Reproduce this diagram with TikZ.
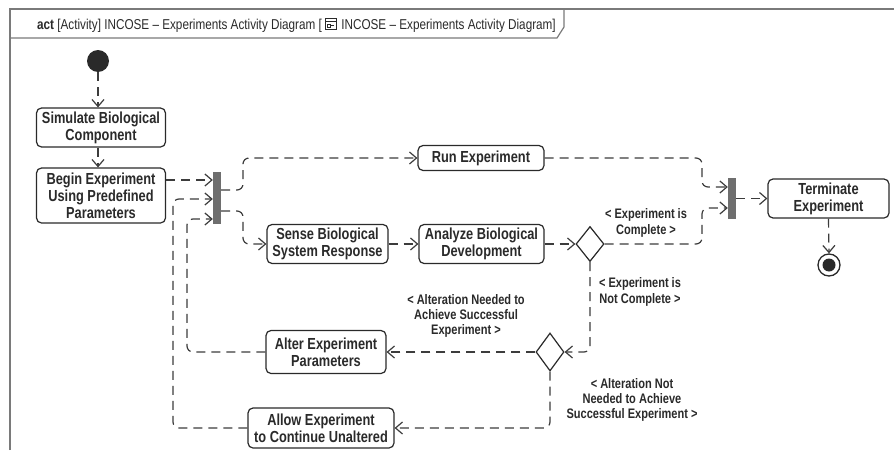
\documentclass[tikz,border=0pt]{standalone}
\usepackage{fontspec}
\setmainfont{Liberation Sans}[FakeStretch=0.8]
\newfontfamily\hdrfont{Liberation Sans}[FakeStretch=0.82]
\usetikzlibrary{arrows.meta,shapes.geometric,calc}

\definecolor{ink}{HTML}{2A2A2A}
\definecolor{wire}{HTML}{3C3C3C}
\definecolor{barfill}{HTML}{6E6E6E}
\definecolor{framecol}{HTML}{7A7A7A}

\tikzset{
  action/.style={draw=ink, line width=1.2pt, rounded corners=5pt, inner sep=0pt,
    align=center, text=ink,
    font=\fontsize{16}{16.8}\selectfont\bfseries},
  guard/.style={inner sep=0pt, align=center, text=ink,
    font=\fontsize{13.8}{15.2}\selectfont\bfseries},
  bar/.style={fill=barfill, draw=none, inner sep=0pt, minimum width=8pt},
  decision/.style={diamond, draw=ink, line width=1.2pt, inner sep=0pt,
    minimum width=28pt, minimum height=35pt, fill=white},
  flow/.style={draw=wire, line width=1.2pt, dash pattern=on 9pt off 6pt,
    rounded corners=6pt, -{Straight Barb[length=7pt,width=12pt]}},
  hdr/.style={inner sep=0pt, text=ink, font=\hdrfont\fontsize{14.3}{15.5}\selectfont},
}

\begin{document}
\begin{tikzpicture}[x=1pt,y=-1pt]
\useasboundingbox (0,0) rectangle (894,450);
\fill[white] (0,0) rectangle (894,450);

% diagram frame and its name tab
\draw[framecol, line width=1.2pt] (10,450) -- (10,9) -- (894,9);
\draw[framecol, line width=1.2pt] (10,38) -- (557,38) -- (564,27) -- (564,9);
\node[hdr, anchor=base west] (hA) at (37,29)
  {\textbf{act} [Activity] INCOSE – Experiments Activity Diagram [};
% small diagram icon
\coordinate (icn) at ($(hA.base east)+(3,0)$);
\draw[ink, line width=0.7pt] (icn) rectangle ++(11,-11);
\draw[ink, line width=0.6pt] ($(icn)+(0,-8)$) -- ++(11,0);
\draw[ink, line width=0.6pt] ($(icn)+(2.5,-2)$) rectangle ++(3,-3)
  ($(icn)+(5.5,-3.5)$) -- ++(3,0);
\node[hdr, anchor=base west] (hB) at ($(icn)+(16,0)$)
  {INCOSE – Experiments Activity Diagram]};

% initial and final nodes
\node[circle, fill=ink, minimum size=22pt, inner sep=0pt] (init) at (98,61) {};
\node[circle, draw=ink, line width=1.3pt, minimum size=22pt, inner sep=0pt] (final) at (829,265) {};
\fill[ink] (final.center) circle (6.5);

% actions
\node[action, minimum width=129pt, minimum height=39pt] (sim) at (101,127.5)
  {Simulate Biological\\Component};
\node[action, minimum width=129pt, minimum height=55pt] (begin) at (101,195.5)
  {Begin Experiment\\Using Predefined\\Parameters};
\node[action, minimum width=126pt, minimum height=25pt] (run) at (481,158)
  {Run Experiment};
\node[action, minimum width=121pt, minimum height=39pt] (sense) at (327.5,244)
  {Sense Biological\\System Response};
\node[action, minimum width=125pt, minimum height=39pt] (analyze) at (481.5,244)
  {Analyze Biological\\Development};
\node[action, minimum width=121pt, minimum height=39pt] (term) at (828.5,198.5)
  {Terminate\\Experiment};
\node[action, minimum width=120pt, minimum height=43pt] (alter) at (326,352)
  {Alter Experiment\\Parameters};
\node[action, minimum width=146pt, minimum height=40pt] (allow) at (321,428)
  {Allow Experiment\\to Continue Unaltered};

% fork, join and decisions
\node[bar, minimum height=52pt] (fork) at (217,198) {};
\node[bar, minimum height=41pt] (join) at (732,198.5) {};
\node[decision] (d1) at (590,244) {};
\node[decision, minimum height=38pt] (d2) at (550,352) {};

% bend lines and attachment points
\coordinate (xa) at (173,0);
\coordinate (xb) at (187,0);
\coordinate (xc) at (243,0);
\coordinate (xd) at (702,0);
\coordinate (fi1) at ([yshift=18pt]fork.west);
\coordinate (fi2) at ([yshift=-1pt]fork.west);
\coordinate (fi3) at ([yshift=-21pt]fork.west);
\coordinate (fo1) at ([yshift=8pt]fork.east);
\coordinate (fo2) at ([yshift=-13pt]fork.east);
\coordinate (ji1) at ([yshift=11.5pt]join.west);
\coordinate (ji2) at ([yshift=-9.5pt]join.west);
\coordinate (bo) at (begin.east |- fi1);

% control flows
\draw[flow] (init) -- (init |- sim.north);
\draw[flow] (sim.south -| init) -- (begin.north -| init);
\draw[flow] (bo) -- (fi1);
\draw[flow] (fo1) -- (fo1 -| xc) -- (xc |- run.west) -- (run.west);
\draw[flow] (fo2) -- (fo2 -| xc) -- (xc |- sense.west) -- (sense.west);
\draw[flow] (sense.east) -- (analyze.west);
\draw[flow] (analyze.east) -- (d1.west);
\draw[flow] (run.east) -- (run.east -| xd) -- (xd |- ji1) -- (ji1);
\draw[flow] (d1.east) -- (d1.east -| xd) -- (xd |- ji2) -- (ji2);
\draw[flow] (join.east) -- (term.west);
\draw[flow] (term.south) -- (final.north);
\draw[flow] (d1.south) -- (d1.south |- d2.east) -- (d2.east);
\draw[flow] (d2.west) -- (alter.east);
\draw[flow] (alter.west) -- (alter.west -| xb) -- (xb |- fi3) -- (fi3);
\draw[flow] (d2.south) -- (d2.south |- allow.east) -- (allow.east);
\draw[flow] (allow.west) -- (allow.west -| xa) -- (xa |- fi2) -- (fi2);

% guards
\node[guard] (g1) at (646,223) {< Experiment is\\Complete >};
\node[guard] (g2) at (640,292) {< Experiment is\\Not Complete >};
\node[guard] (g3) at (466,316) {< Alteration Needed to\\Achieve Successful\\Experiment >};
\node[guard] (g4) at (632,400) {< Alteration Not\\Needed to Achieve\\Successful Experiment >};
\end{tikzpicture}
\end{document}
